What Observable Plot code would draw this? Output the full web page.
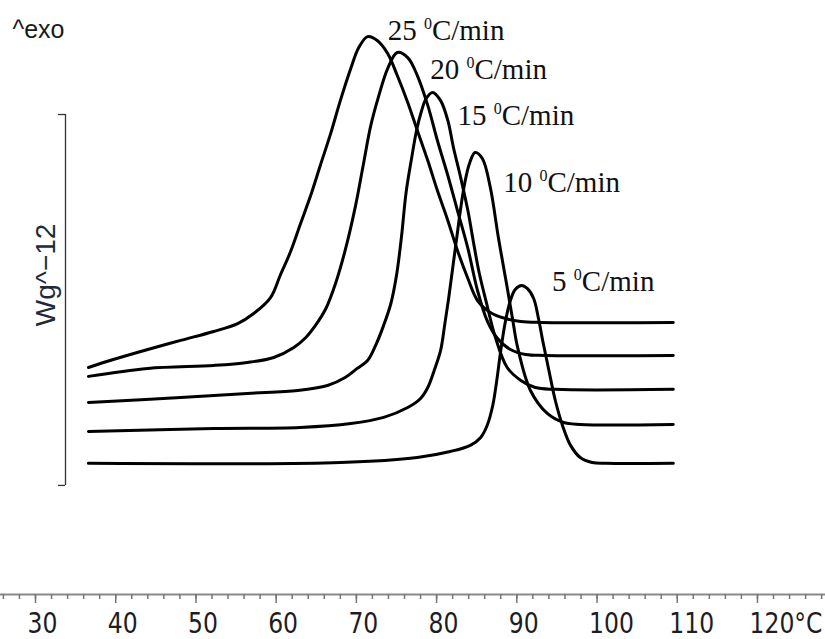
<!DOCTYPE html>
<html><head><meta charset="utf-8">
<script src="https://cdn.jsdelivr.net/npm/d3@7"></script>
<script src="https://cdn.jsdelivr.net/npm/@observablehq/plot@0.6"></script>
<style>html,body{margin:0;padding:0;background:#fff;} svg{display:block}</style>
</head><body><div id="chart"></div>
<script>
// Heating rates (curve labels)
const rates = ["25 ⁰C/min", "20 ⁰C/min", "15 ⁰C/min", "10 ⁰C/min", "5 ⁰C/min"];

// Temperature (°C) and heat flow (W/g, exo up, with vertical offsets)
const t25 = [36.6,39.7,44.0,48.1,52.2,55.2,57.2,59.3,60.5,61.8,63.0,64.3,65.5,66.8,68.0,69.3,70.3,71.4,72.6,73.9,75.1,76.4,77.6,78.9,80.1,81.4,82.6,83.9,85.1,86.7,88.6,90.5,93.0,109.5];
const h25 = [0.636,0.679,0.733,0.782,0.830,0.873,0.927,1.013,1.132,1.261,1.407,1.563,1.725,1.898,2.075,2.248,2.361,2.420,2.399,2.329,2.210,2.065,1.914,1.752,1.590,1.429,1.267,1.116,0.997,0.933,0.900,0.884,0.879,0.879];

const t20 = [36.6,44.0,52.2,56.4,59.7,62.2,63.7,64.9,66.2,67.4,68.6,69.9,70.8,71.8,72.8,73.9,75.1,76.4,77.6,78.9,80.1,81.4,82.6,83.9,85.1,86.3,87.6,89.2,91.1,93.6,109.5];
const h20 = [0.588,0.631,0.647,0.663,0.690,0.744,0.798,0.863,0.954,1.089,1.267,1.509,1.714,1.941,2.102,2.248,2.334,2.307,2.210,2.049,1.860,1.671,1.482,1.278,1.051,0.889,0.792,0.733,0.706,0.701,0.701];

const t15 = [36.6,48.1,56.4,62.7,66.4,68.6,70.1,71.4,72.4,73.4,74.3,75.0,75.6,76.2,76.9,77.5,78.1,78.7,79.5,80.5,81.4,82.1,83.0,83.9,84.6,85.3,86.2,87.3,88.8,90.5,92.3,94.8,109.5];
const h15 = [0.447,0.474,0.496,0.512,0.539,0.582,0.631,0.674,0.755,0.863,0.981,1.132,1.332,1.580,1.768,1.914,2.016,2.086,2.119,2.075,1.968,1.822,1.660,1.482,1.310,1.148,0.987,0.803,0.636,0.566,0.528,0.518,0.518];

const t10 = [36.6,52.2,63.0,69.3,73.4,76.4,78.0,78.9,79.7,80.5,81.0,81.5,82.0,82.5,83.0,83.5,84.1,84.8,85.7,86.7,87.7,88.8,89.5,90.1,91.7,93.8,95.8,97.9,109.5];
const h10 = [0.291,0.307,0.313,0.334,0.367,0.420,0.469,0.528,0.620,0.728,0.863,1.008,1.170,1.332,1.493,1.628,1.736,1.795,1.763,1.606,1.337,1.067,0.889,0.744,0.512,0.388,0.340,0.329,0.329];

const t5 = [36.6,68.0,77.6,81.7,84.2,85.5,86.3,87.0,87.5,88.0,88.6,89.2,89.8,90.6,91.3,92.1,92.7,93.3,94.0,94.8,95.7,96.7,97.9,99.4,101.1,109.5];
const h5 = [0.119,0.124,0.151,0.183,0.216,0.259,0.323,0.431,0.566,0.728,0.889,0.997,1.057,1.078,1.062,1.008,0.900,0.765,0.620,0.458,0.323,0.216,0.151,0.124,0.119,0.119];

// Curve label anchors (temperature, heat flow)
const labelT = [73.9, 79.2, 82.6, 88.3, 94.4];
const labelHF = [2.404, 2.194, 1.941, 1.580, 1.051];

// Axis ticks
const majorTicks = [30, 40, 50, 60, 70, 80, 90, 100, 110, 120];
const tickLabels = ["30", "40", "50", "60", "70", "80", "90", "100", "110", "120°C"];
const minorTicks = d3.range(26, 129, 2);
const scaleBar = [0, 2]; // 2 W/g scale bar

const temps = [t25, t20, t15, t10, t5];
const flows = [h25, h20, h15, h10, h5];
const rows = rates.flatMap((r, k) => temps[k].map((t, i) => ({rate: r, T: t, hf: flows[k][i]})));
const labels = rates.map((r, k) => ({text: r, T: labelT[k], hf: labelHF[k]}));
const ticks = majorTicks.map((v, i) => ({v, label: tickLabels[i]}));

const yMin = -0.588;
const barT = 33.74;

const plot = Plot.plot({
  width: 825, height: 639,
  marginLeft: 0, marginRight: 0, marginTop: 114, marginBottom: 45,
  x: {domain: [25.637, 128.48]},
  y: {domain: [yMin, 2], axis: null},
  style: {background: "#fff", overflow: "visible"},
  marks: [
    Plot.ruleY([yMin], {stroke: "#8a8a8a", strokeWidth: 2}),
    Plot.axisX({anchor: "bottom", ticks: minorTicks, tickSize: 5, tickFormat: () => "", stroke: "#777", strokeWidth: 1.5, label: null}),
    Plot.axisX({anchor: "bottom", ticks: majorTicks, tickSize: 9, tickFormat: () => "", stroke: "#777", strokeWidth: 1.5, label: null}),
    Plot.text(ticks, {x: "v", y: yMin, dy: 38, dx: -8, textAnchor: "start", lineAnchor: "bottom",
      text: "label", fontSize: 28, fill: "#1d1d22",
      fontFamily: "'DejaVu Sans', sans-serif"}),
    Plot.ruleX([barT], {y1: scaleBar[0], y2: scaleBar[1], stroke: "#333", strokeWidth: 1.3}),
    Plot.ruleY(scaleBar, {x1: barT - 0.87, x2: barT, stroke: "#333", strokeWidth: 1.3}),
    Plot.text(["Wg^−12"], {x: 32.49, y: 1.135, rotate: -90, textAnchor: "middle", lineAnchor: "bottom",
      fontSize: 28, fill: "#1e2a3a", fontFamily: "'Liberation Sans', Arial, sans-serif"}),
    Plot.text(["^exo"], {x: 27.13, y: 2.41, textAnchor: "start", lineAnchor: "bottom",
      fontSize: 25, fill: "#1a1a1a", fontFamily: "'Liberation Sans', Arial, sans-serif"}),
    Plot.line(rows, {x: "T", y: "hf", z: "rate", stroke: "#000", strokeWidth: 3, curve: "catmull-rom"}),
    Plot.text(labels, {x: "T", y: "hf", text: "text", textAnchor: "start", lineAnchor: "bottom",
      fontSize: 29, fill: "#111", fontFamily: "'Liberation Serif', 'Times New Roman', serif"})
  ]
});

const ns = "http://www.w3.org/2000/svg";
plot.querySelectorAll("text").forEach(t => {
  const s = t.textContent;
  if (tickLabels.includes(s)) {
    // Narrow the tick-label font (Tahoma-like proportions), scaling about the text's left anchor
    const tr = t.getAttribute("transform");
    if (tr) {
      t.setAttribute("transform", tr + " scale(0.84,1)");
    } else {
      const x = +(t.getAttribute("x") || 0);
      t.setAttribute("transform", `translate(${x},0) scale(0.84,1) translate(${-x},0)`);
    }
  } else if (s.includes("⁰")) {
    // Render the raised "0" of the curve labels as a small superscript
    const i = s.indexOf("⁰");
    t.textContent = s.slice(0, i);
    const sup = document.createElementNS(ns, "tspan");
    sup.setAttribute("font-size", "16");
    sup.setAttribute("dy", "-11");
    sup.textContent = "0";
    const rest = document.createElementNS(ns, "tspan");
    rest.setAttribute("dy", "11");
    rest.textContent = s.slice(i + 1);
    t.appendChild(sup);
    t.appendChild(rest);
  }
});
document.getElementById("chart").appendChild(plot);
</script>
</body></html>
